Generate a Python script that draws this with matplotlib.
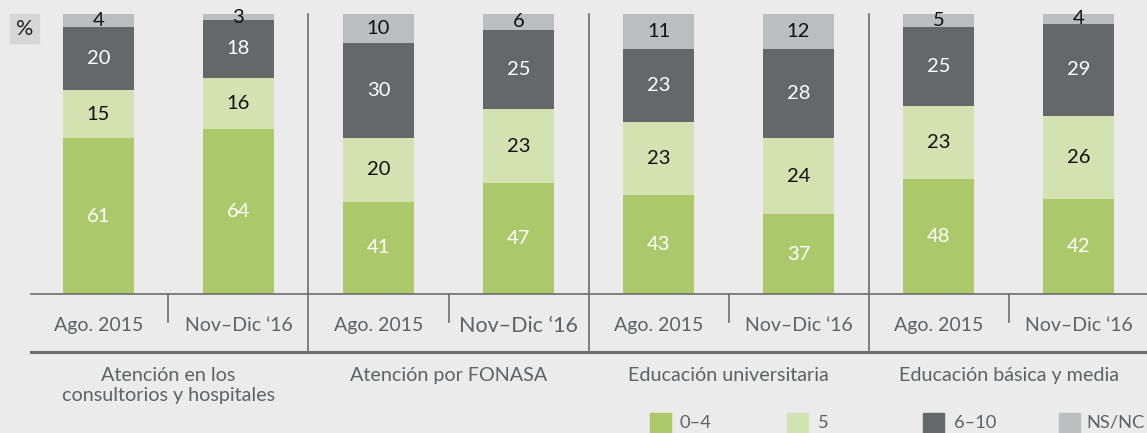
import numpy as np
import matplotlib
matplotlib.use('Agg')
import matplotlib.pyplot as plt
from matplotlib.patches import Rectangle

matplotlib.rc('font', **{'family': 'sans-serif', 'sans-serif': ['Lato'], 'size': 14})

# data
groups = ['Atención en los\nconsultorios y hospitales', 'Atención por FONASA',
          'Educación universitaria', 'Educación básica y media']
periods = ['Ago. 2015', 'Nov–Dic ‘16']
series = ['0–4', '5', '6–10', 'NS/NC']
v_04 = [61, 64, 41, 47, 43, 37, 48, 42]
v_5 = [15, 16, 20, 23, 23, 24, 23, 26]
v_610 = [20, 18, 30, 25, 23, 28, 25, 29]
v_ns = [4, 3, 10, 6, 11, 12, 5, 4]

colors = ['#abc96a', '#d4e2b2', '#656869', '#bbbebf']
txt_colors = ['white', '#111111', 'white', '#111111']
bg = '#ebebeb'
line_c = '#6e6e6e'
lab_c = '#5e6264'

W, H = 1147, 433
fig = plt.figure(figsize=(W / 100, H / 100), dpi=100, facecolor=bg)
ax = fig.add_axes([31 / W, (H - 294) / H, (W - 31) / W, 280 / H])
ax.set_facecolor(bg)

ylo, yhi = 12, 100
x = np.arange(len(v_04))
bottom = np.zeros(len(x))
for vals, c, tc in zip([v_04, v_5, v_610, v_ns], colors, txt_colors):
    vals = np.array(vals)
    ax.bar(x, vals, 0.507, bottom=bottom, color=c, lw=0)
    for xi, b, v in zip(x, bottom, vals):
        lo, hi = max(b, ylo), min(b + v, yhi)
        ax.text(xi, (lo + hi) / 2, str(v), ha='center', va='center',
                color=tc, fontsize=14.5)
    bottom += vals

ax.set_xlim(-0.482, 7.489)
ax.set_ylim(ylo, yhi)
for s in ax.spines.values():
    s.set_visible(False)
ax.set_xticks([])
ax.set_yticks([])

tr = ax.get_xaxis_transform()
# baseline, lower rule, separators, inner ticks
ax.plot([-0.482, 7.489], [0, 0], color=line_c, lw=1.2, transform=tr, clip_on=False)
ax.plot([-0.482, 7.489], [-0.207, -0.207], color=line_c, lw=2.2, transform=tr, clip_on=False)
for sx in [1.5, 3.5, 5.5]:
    ax.plot([sx, sx], [-0.207, 1.0], color=line_c, lw=1.2, transform=tr, clip_on=False)
for tx in [0.5, 2.5, 4.5, 6.5]:
    ax.plot([tx, tx], [0, -0.1], color=line_c, lw=1.2, transform=tr, clip_on=False)

for i, xi in enumerate(x):
    fs = 15.5 if i == 3 else 14
    ax.text(xi, -0.114, periods[i % 2], ha='center', va='center',
            color=lab_c, fontsize=fs, transform=tr)
for g, name in enumerate(groups):
    ax.text(2 * g + 0.5, -0.262, name, ha='center', va='top', color=lab_c,
            fontsize=14.2, linespacing=1.18, transform=tr)

# % box
fig.patches.append(Rectangle((10 / W, 1 - 43 / H), 29 / W, 29 / H, color='#d6d6d6',
                             transform=fig.transFigure, figure=fig))
fig.text(24.5 / W, 1 - 29 / H, '%', ha='center', va='center', fontsize=15.5, color='#222222')

# legend
for sx, tx, lab, c in zip([650, 787, 923, 1059], [680, 818, 954, 1086], series, colors):
    fig.patches.append(Rectangle((sx / W, 1 - 434 / H), 21 / W, 21 / H, color=c,
                                 transform=fig.transFigure, figure=fig))
    fig.text(tx / W, 1 - 422.5 / H, lab, ha='left', va='center', fontsize=13.2, color=lab_c)

fig.savefig('out.png', dpi=100, facecolor=bg)
